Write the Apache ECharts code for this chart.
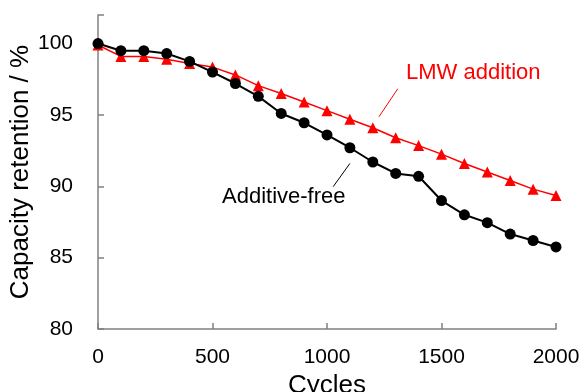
<!DOCTYPE html>
<html>
<head>
<meta charset="utf-8">
<script src="https://cdn.jsdelivr.net/npm/echarts@6/dist/echarts.min.js"></script>
<style>
  html, body { margin: 0; padding: 0; background: #fff; }
  #chart { width: 585px; height: 392px; }
</style>
</head>
<body>
<div id="chart"></div>
<script>
const cycles = [0, 100, 200, 300, 400, 500, 600, 700, 800, 900, 1000,
  1100, 1200, 1300, 1400, 1500, 1600, 1700, 1800, 1900, 2000];
const additiveFree = [100, 99.5, 99.5, 99.3, 98.75, 98.0, 97.2, 96.3, 95.1, 94.45, 93.6,
  92.7, 91.7, 90.9, 90.7, 89.0, 88.0, 87.45, 86.65, 86.2, 85.75];
const lmwAddition = [99.9, 99.1, 99.1, 98.9, 98.6, 98.35, 97.8, 97.05, 96.5, 95.9, 95.3,
  94.7, 94.1, 93.4, 92.85, 92.25, 91.6, 91.0, 90.4, 89.8, 89.35];

const font = "Liberation Sans, Arial, sans-serif";
const chart = echarts.init(document.getElementById("chart"));

const pairs = (ys) => cycles.map((c, i) => [c, ys[i]]);

const option = {
  animation: false,
  grid: { left: 98, right: 29, top: 15, bottom: 63, outerBoundsMode: "none", containLabel: false },
  xAxis: {
    type: "value",
    min: 0,
    max: 2000,
    interval: 500,
    name: "Cycles",
    nameLocation: "middle",
    nameGap: 33,
    nameTextStyle: { fontFamily: font, fontSize: 26, color: "#000" },
    axisLine: { lineStyle: { color: "#808080", width: 1.5 } },
    axisTick: { inside: true, length: 6, lineStyle: { color: "#808080", width: 1.5 } },
    axisLabel: {
      fontFamily: font, fontSize: 21, color: "#000", margin: 18,
      formatter: (v) => String(v),
    },
    splitLine: { show: false },
  },
  yAxis: {
    type: "value",
    min: 80,
    max: 102,
    interval: 5,
    name: "Capacity retention / %",
    nameLocation: "middle",
    nameGap: 64,
    nameMoveOverlap: false,
    nameTextStyle: { fontFamily: font, fontSize: 26, color: "#000" },
    axisLine: { show: true, lineStyle: { color: "#808080", width: 1.5 } },
    axisTick: { show: true, inside: true, length: 6, lineStyle: { color: "#808080", width: 1.5 } },
    axisLabel: {
      fontFamily: font, fontSize: 21, color: "#000", margin: 25,
      formatter: (v) => (v % 5 === 0 ? String(v) : ""),
    },
    splitLine: { show: false },
  },
  series: [
    {
      name: "LMW addition",
      type: "line",
      data: pairs(lmwAddition),
      symbol: "triangle",
      symbolSize: 11,
      lineStyle: { color: "#ff0000", width: 1.5 },
      itemStyle: { color: "#ff0000" },
      z: 2,
      markLine: {
        silent: true,
        symbol: "none",
        label: { show: false },
        lineStyle: { color: "#ff0000", width: 1, type: "solid" },
        data: [[{ coord: [1309, 96.83] }, { coord: [1227, 94.87] }]],
      },
    },
    {
      name: "Additive-free",
      type: "line",
      data: pairs(additiveFree),
      symbol: "circle",
      symbolSize: 11,
      lineStyle: { color: "#000", width: 2 },
      itemStyle: { color: "#000" },
      z: 3,
      markLine: {
        silent: true,
        symbol: "none",
        label: { show: false },
        lineStyle: { color: "#000", width: 1, type: "solid" },
        data: [[{ coord: [1100, 91.6] }, { coord: [1027, 89.97] }]],
      },
    },
  ],
  graphic: [
    {
      type: "text",
      x: 406,
      y: 73,
      style: { text: "LMW addition", font: "22px " + font, fill: "#ff0000", verticalAlign: "middle" },
    },
    {
      type: "text",
      x: 222,
      y: 197,
      style: { text: "Additive-free", font: "22px " + font, fill: "#000", verticalAlign: "middle" },
    },
  ],
};
chart.setOption(option);
</script>
</body>
</html>
